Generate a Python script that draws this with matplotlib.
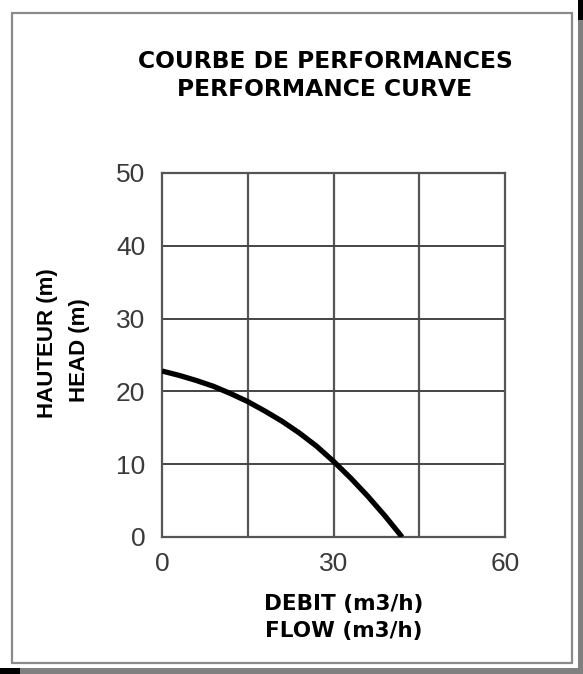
import matplotlib.pyplot as plt
from matplotlib.patches import Rectangle

# Data
flow = [0, 3, 6, 9, 12, 15, 18, 21, 24, 27, 30, 33, 36, 39, 42]
head = [22.8, 22.2, 21.5, 20.7, 19.7, 18.6, 17.3, 15.9, 14.3, 12.5, 10.4, 8.1, 5.6, 2.9, 0.0]
x_ticks = [0, 30, 60]
y_ticks = [0, 10, 20, 30, 40, 50]
x_grid = [15, 30, 45]
y_grid = [10, 20, 30, 40]

W, H = 583, 674
fig = plt.figure(figsize=(W / 100, H / 100), dpi=100)
fig.patch.set_facecolor("white")

# Frame with shadow
def px_rect(x0, y0, x1, y1, **kw):
    # pixel coords from top-left
    fig.patches.append(Rectangle((x0 / W, 1 - y1 / H), (x1 - x0) / W, (y1 - y0) / H,
                                 transform=fig.transFigure, figure=fig, **kw))

px_rect(578, 20, 583, 674, facecolor="#808080", edgecolor="none")
px_rect(578, 0, 583, 20, facecolor="black", edgecolor="none")
px_rect(0, 668, 583, 674, facecolor="#808080", edgecolor="none")
px_rect(0, 668, 20, 674, facecolor="black", edgecolor="none")
px_rect(12, 13, 572, 663, facecolor="none", edgecolor="#8a8a8a", linewidth=1.6)

ax = fig.add_axes([162 / W, 1 - 537 / H, 343 / W, 364 / H])
ax.set_xlim(0, 60)
ax.set_ylim(0, 50)

for g in x_grid:
    ax.axvline(g, color="#555555", linewidth=1.6, zorder=1)
for g in y_grid:
    ax.axhline(g, color="#444444", linewidth=1.4, zorder=1)
for s in ax.spines.values():
    s.set_color("#555555")
    s.set_linewidth(1.6)

ax.plot(flow, head, color="black", linewidth=3.8, solid_capstyle="butt", zorder=3)

ax.set_xticks(x_ticks)
ax.set_yticks(y_ticks)
ax.tick_params(axis="y", length=0, labelsize=19, labelcolor="#3a3a3a", pad=12)
ax.tick_params(axis="x", length=0, labelsize=19, labelcolor="#3a3a3a", pad=11)
for lab in ax.get_xticklabels() + ax.get_yticklabels():
    lab.set_family("Liberation Sans")

bold = dict(family="DejaVu Sans", weight="bold", color="black")
fig.text(325 / W, 1 - 62 / H, "COURBE DE PERFORMANCES", ha="center", va="center", fontsize=16.8, **bold)
fig.text(325 / W, 1 - 89 / H, "PERFORMANCE CURVE", ha="center", va="center", fontsize=16.8, **bold)
fig.text(344 / W, 1 - 604 / H, "DEBIT (m3/h)", ha="center", va="center", fontsize=15.5, **bold)
fig.text(344 / W, 1 - 631 / H, "FLOW (m3/h)", ha="center", va="center", fontsize=15.5, **bold)

ybold = dict(family="Liberation Sans", weight="bold", color="black")
fig.text(48 / W, 1 - 343 / H, "HAUTEUR (m)", ha="center", va="center", rotation=90, fontsize=16, **ybold)
fig.text(80 / W, 1 - 350 / H, "HEAD (m)", ha="center", va="center", rotation=90, fontsize=16, **ybold)

fig.savefig("out.png", dpi=100)
